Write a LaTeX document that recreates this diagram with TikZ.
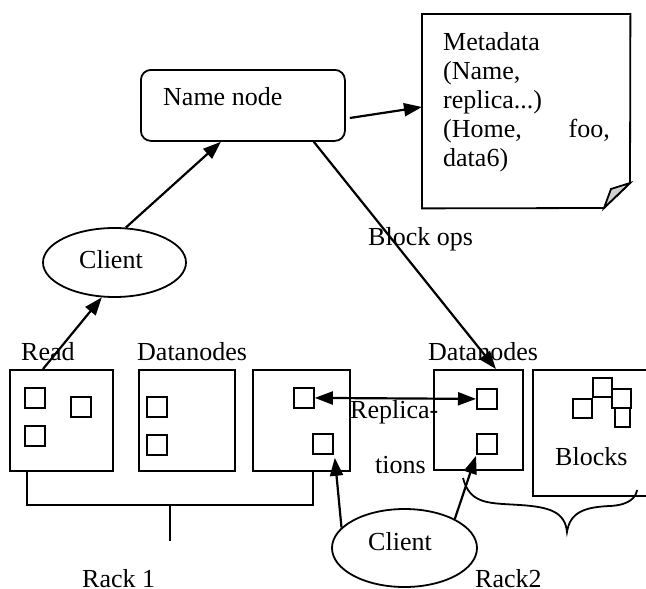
\documentclass[tikz,border=0pt]{standalone}
\usepackage{fontspec}
\setmainfont{Liberation Serif}
\usetikzlibrary{arrows.meta,shapes.geometric}
\begin{document}
\begin{tikzpicture}[x=1pt,y=-1pt,
  box/.style={draw, line width=1.8pt, inner sep=0pt, anchor=north west},
  sq/.style={draw, line width=1.8pt, minimum width=20pt, minimum height=20pt, inner sep=0pt, anchor=north west},
  lbl/.style={inner sep=0pt, anchor=base west, font=\fontsize{26}{30}\selectfont},
  ell/.style={draw, ellipse, line width=1.8pt, inner sep=0pt},
  arr/.style={line width=2.2pt, -{Triangle[length=18pt,width=13pt]}},
  darr/.style={line width=2.2pt, {Triangle[length=18pt,width=13pt]}-{Triangle[length=18pt,width=13pt]}},
  thin/.style={line width=1.8pt}]
\useasboundingbox (0,0) rectangle (646,589);

% Name node
\node[box, minimum width=204pt, minimum height=71pt, rounded corners=10pt] (nn) at (140,69) {};
\node[lbl] (nnl) at (163,105) {Name node};

% Metadata page
\node[inner sep=0pt, minimum width=208pt, minimum height=194pt, anchor=north west] (md) at (422,14) {};
\draw[thin] (md.north west) -- (md.north east) -- (630,183) -- (604,208) -- (md.south west) -- cycle;
\filldraw[thin, fill=gray!35] (604,208) -- (611,189) .. controls (620,186) .. (630,183) -- cycle;
\coordinate (mdin) at (422,107);
\node[lbl] (m1) at (443,50) {Metadata};
\node[lbl] (m2) at (443,79) {(Name,};
\node[lbl] (m3) at (443,108) {replica...)};
\node[lbl] (m4) at (443,137) {(Home,};
\node[lbl, anchor=base east] (m5) at (610,137) {foo,};
\node[lbl] (m6) at (443,166) {data6)};

% Client top
\node[ell, minimum width=143pt, minimum height=69pt] (c1) at (114.5,262.5) {};
\node[lbl] (c1l) at (79,268) {Client};

% Rack 1 boxes
\node[box, minimum width=103pt, minimum height=101pt] (b1) at (9,369) {};
\node[box, minimum width=96pt, minimum height=101pt] (b2) at (138,369) {};
\node[box, minimum width=97pt, minimum height=101pt] (b3) at (252,369) {};
\node[sq] (s11) at (24,387) {};
\node[sq] (s12) at (70,396) {};
\node[sq] (s13) at (24,425) {};
\node[sq] (s21) at (146,396) {};
\node[sq] (s22) at (146,434) {};
\node[sq] (s31) at (293,387) {};
\node[sq] (s32) at (312,433) {};

% Rack 2
\node[box, minimum width=89pt, minimum height=100pt] (r2) at (433,369) {};
\node[sq] (t1) at (476,388) {};
\node[sq] (t2) at (476,433) {};

% Blocks box
\draw[thin] (660,370) -- (533,370) -- (533,496) -- (660,496);
\node[sq, minimum width=19pt, minimum height=19pt] (k1) at (572,398) {};
\node[sq, minimum width=19pt, minimum height=19pt] (k2) at (592,377) {};
\node[sq, minimum width=19pt, minimum height=19pt] (k3) at (611,388) {};
\node[sq, minimum width=15pt, minimum height=19pt] (k4) at (614,407) {};
\node[lbl] (bl) at (555,465) {Blocks};

% Client bottom
\node[ell, minimum width=145pt, minimum height=78pt] (c2) at (404.5,548) {};
\node[lbl] (c2l) at (368,550) {Client};

% labels
\node[lbl] (bo) at (368,245) {Block ops};
\node[lbl] (rd) at (21,360) {Read};
\node[lbl] (dn1) at (137,360) {Datanodes};
\node[lbl] (dn2) at (428,360) {Datanodes};
\node[lbl] (rp1) at (350,418) {Replica-};
\node[lbl] (rp2) at (375,473) {tions};
\node[lbl] (rk1) at (82,587) {Rack 1};
\node[lbl] (rk2) at (475,587) {Rack2};

% connectors
\draw[arr] ([xshift=4pt]nn.south east |- 0,118) -- (mdin);
\draw[arr] (c1.72) -- ([xshift=-22pt]nn.south);
\draw[arr] ([xshift=34pt]b1.north west) -- (c1.250);
\draw[arr] ([xshift=-32pt]nn.south east) -- ([xshift=17.5pt]r2.north);
\draw[darr] (s31.east) -- (t1.west);
\draw[arr] (c2.162) -- ([xshift=1pt,yshift=-3pt]s32.south east);
\draw[arr] (c2.30) -- ([yshift=-1pt]t2.south west);

% rack 1 bracket
\draw[thin] (27,470) -- (27,505) -- (313,505) -- (313,470);
\draw[thin] (170,505) -- (170,541);

% rack 2 brace
\draw[thin] (463,478) .. controls (470,505) and (490,503) .. (520,505)
  .. controls (550,507) and (565,512) .. (567,532)
  .. controls (570,512) and (585,507) .. (610,506)
  .. controls (630,505) and (636,497) .. (637,490);
\end{tikzpicture}
\end{document}
